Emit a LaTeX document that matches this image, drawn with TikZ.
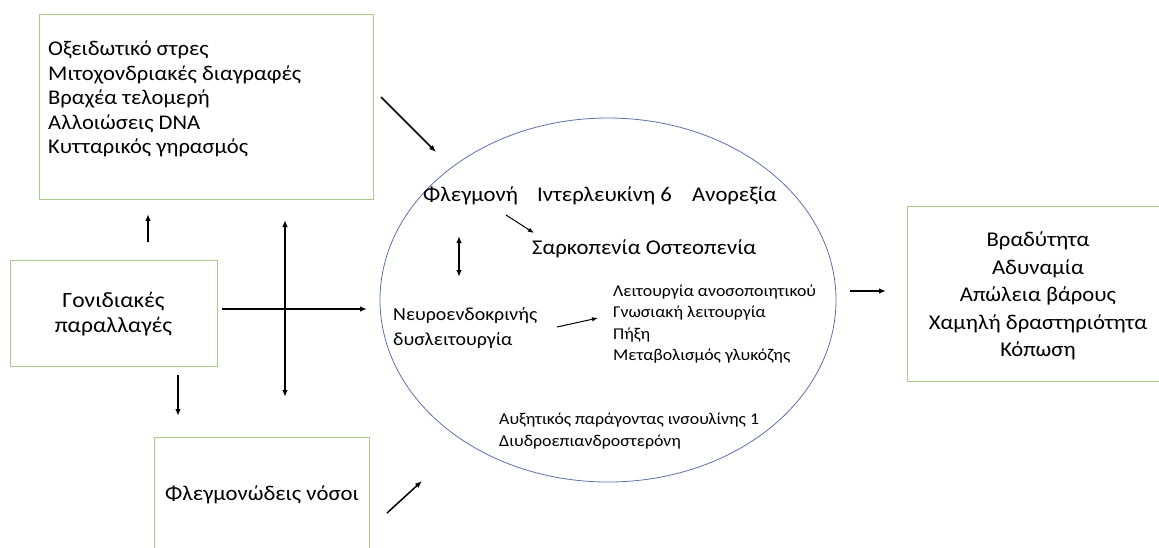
\documentclass[tikz,border=0pt]{standalone}
\usepackage{fontspec}
\setmainfont{Carlito}[FakeStretch=1.08]
\usetikzlibrary{shapes.geometric,arrows.meta}
\definecolor{boxgreen}{RGB}{168,202,140}
\definecolor{ringblue}{RGB}{92,112,172}
\tikzset{
  box/.style={draw=boxgreen, line width=1.4pt, inner sep=0pt, anchor=north west},
  bigtxt/.style={inner sep=0pt, font=\fontsize{21}{25}\selectfont},
  smalltxt/.style={inner sep=0pt, font=\fontsize{16.5}{21.5}\selectfont, align=left, anchor=west},
  link/.style={-{Latex[length=7pt,width=5.5pt]}, line width=1.5pt},
  twoway/.style={{Latex[length=7pt,width=5.5pt]}-{Latex[length=7pt,width=5.5pt]}, line width=1.5pt},
  thinlink/.style={-{Latex[length=6pt,width=4.5pt]}, line width=1pt}
}

\begin{document}
\begin{tikzpicture}[x=1pt,y=-1pt]
    \useasboundingbox (0,0) rectangle (1159,547);
    \clip (0,0) rectangle (1159,547);

    % boxes round the ring
    \node[box, minimum width=334pt, minimum height=185pt] (stress) at (39,14) {};
    \node[box, minimum width=207pt, minimum height=106pt] (genes) at (10,260) {};
    \node[box, minimum width=215pt, minimum height=130pt] (disease) at (154,437) {};
    \node[box, minimum width=270pt, minimum height=175pt] (outcome) at (907,206) {};
    \node[draw=ringblue, line width=0.8pt, ellipse, minimum width=456pt, minimum height=364pt] (core) at (608,300) {};

    \node[bigtxt, align=left, anchor=west, font=\fontsize{20.9}{24.4}\selectfont] (stresstxt) at (48,99) {Οξειδωτικό στρες\\Μιτοχονδριακές διαγραφές\\Βραχέα τελομερή\\Αλλοιώσεις DNA\\Κυτταρικός γηρασμός};
    \node[bigtxt, align=center, font=\fontsize{21.8}{25}\selectfont] (genestxt) at (113.5,314) {Γονιδιακές\\παραλλαγές};
    \node[bigtxt] (diseasetxt) at (262,495) {Φλεγμονώδεις νόσοι};
    \node[bigtxt, align=center, font=\fontsize{21}{27.5}\selectfont] (outcometxt) at (1038,296) {Βραδύτητα\\Αδυναμία\\Απώλεια βάρους\\Χαμηλή δραστηριότητα\\Κόπωση};

    % inside the ring
    \node[bigtxt, anchor=west] (inflam) at (423,196) {Φλεγμονή};
    \node[bigtxt, anchor=west] (il6) at (537,196) {Ιντερλευκίνη 6};
    \node[bigtxt, anchor=west] (anorexia) at (692,196) {Ανορεξία};
    \node[bigtxt, anchor=west] (sarco) at (532,249) {Σαρκοπενία Οστεοπενία};
    \node[bigtxt, align=left, anchor=west, font=\fontsize{18.4}{25}\selectfont] (neuro) at (393,328) {Νευροενδοκρινής\\δυσλειτουργία};
    \node[smalltxt] (funcs) at (613,324) {Λειτουργία ανοσοποιητικού\\Γνωσιακή λειτουργία\\Πήξη\\Μεταβολισμός γλυκόζης};
    \node[smalltxt] (hormones) at (499,431) {Αυξητικός παράγοντας ινσουλίνης 1\\Διυδροεπιανδροστερόνη};

    % arrow ends
    \coordinate (a1) at (381,97);   \coordinate (b1) at (436,152);
    \coordinate (a2) at (148,242);  \coordinate (b2) at (148,214);
    \coordinate (a3) at (178,375);  \coordinate (b3) at (178,416);
    \coordinate (a4) at (222,309);  \coordinate (b4) at (367,309);
    \coordinate (a5) at (285,220);  \coordinate (b5) at (285,397);
    \coordinate (a6) at (387,513);  \coordinate (b6) at (422,481);
    \coordinate (a7) at (850,291);  \coordinate (b7) at (886,291);
    \coordinate (a8) at (506,215);  \coordinate (b8) at (534,233);
    \coordinate (a9) at (459,236);  \coordinate (b9) at (459,277);
    \coordinate (a10) at (557,327); \coordinate (b10) at (598,318);

    \draw[link] (a1) -- (b1);
    \draw[link] (a2) -- (b2);
    \draw[link] (a3) -- (b3);
    \draw[link] (a4) -- (b4);
    \draw[twoway] (a5) -- (b5);
    \draw[link] (a6) -- (b6);
    \draw[link] (a7) -- (b7);
    \draw[thinlink] (a8) -- (b8);
    \draw[twoway] (a9) -- (b9);
    \draw[thinlink] (a10) -- (b10);
\end{tikzpicture}
\end{document}
